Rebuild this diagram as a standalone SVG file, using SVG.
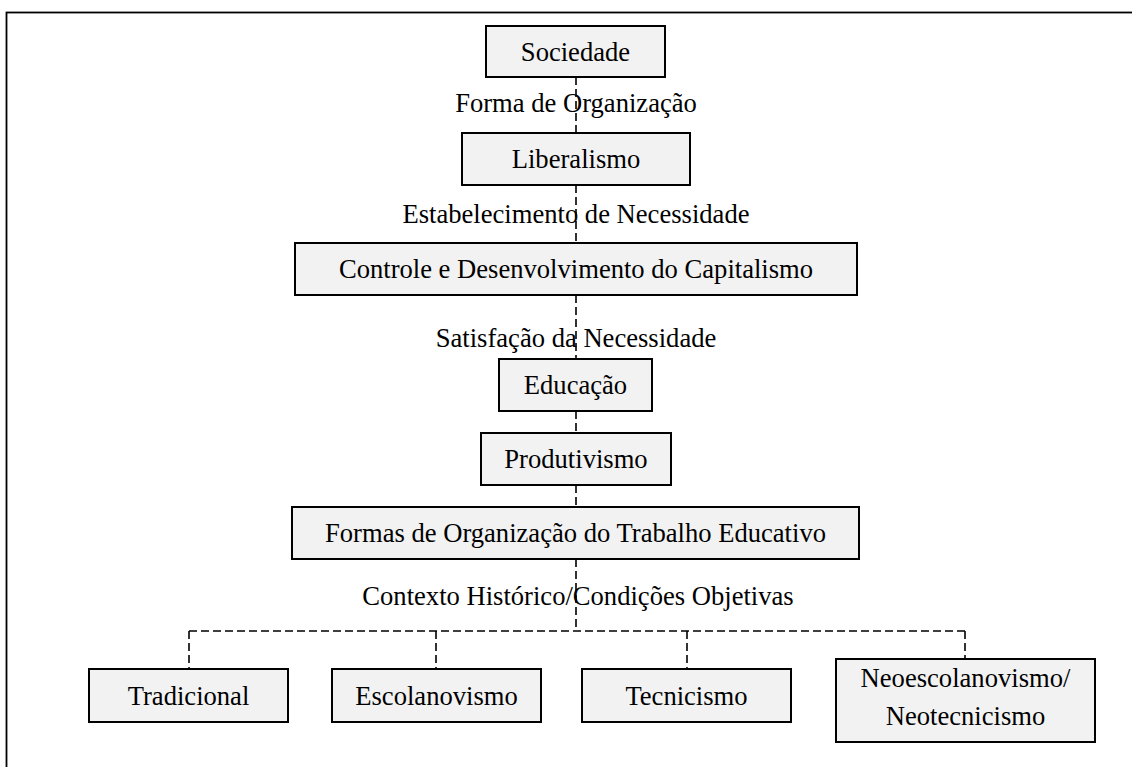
<svg xmlns="http://www.w3.org/2000/svg" width="1132" height="767" viewBox="0 0 1132 767">
<style>
.box{fill:#f2f2f2;stroke:#000;stroke-width:2}
.t{font-family:"Liberation Serif","Times New Roman",serif;font-size:26.6px;fill:#000;text-anchor:middle}
.c{fill:none;stroke:#000;stroke-width:1.6;stroke-dasharray:8 4}
</style>
<rect x="0" y="0" width="1132" height="767" fill="#fff"/>
<rect x="6.5" y="12.5" width="1200" height="800" fill="none" stroke="#000" stroke-width="1.8"/>
<g id="connectors">
<path class="c" d="M576 77V133M576 185V243M576 295V359M576 411V433M576 485V507M576 559V631"/>
<path class="c" d="M189 631H965M189 631V669M436 631V669M687 631V669M965 631V659"/>
</g>
<g id="labels">
<text class="t" x="576" y="112">Forma de Organização</text>
<text class="t" x="576" y="223">Estabelecimento de Necessidade</text>
<text class="t" x="576" y="347">Satisfação da Necessidade</text>
<text class="t" x="578" y="605">Contexto Histórico/Condições Objetivas</text>
</g>
<g id="sociedade"><rect class="box" x="486" y="26" width="179" height="51"/><text class="t" x="575.5" y="60.5">Sociedade</text></g>
<g id="liberalismo"><rect class="box" x="462" y="133" width="228" height="52"/><text class="t" x="576" y="167.5">Liberalismo</text></g>
<g id="controle"><rect class="box" x="295" y="243" width="562" height="52"/><text class="t" x="576" y="278">Controle e Desenvolvimento do Capitalismo</text></g>
<g id="educacao"><rect class="box" x="499" y="359" width="153" height="52"/><text class="t" x="575.5" y="394">Educação</text></g>
<g id="produtivismo"><rect class="box" x="481" y="433" width="190" height="52"/><text class="t" x="576" y="468">Produtivismo</text></g>
<g id="formas"><rect class="box" x="292" y="507" width="567" height="52"/><text class="t" x="575.5" y="542">Formas de Organização do Trabalho Educativo</text></g>
<g id="tradicional"><rect class="box" x="89" y="669" width="199" height="53"/><text class="t" x="188.5" y="704.5">Tradicional</text></g>
<g id="escolanovismo"><rect class="box" x="332" y="669" width="209" height="53"/><text class="t" x="436.5" y="704.5">Escolanovismo</text></g>
<g id="tecnicismo"><rect class="box" x="582" y="669" width="209" height="53"/><text class="t" x="686.5" y="704.5">Tecnicismo</text></g>
<g id="neo"><rect class="box" x="836" y="659" width="259" height="83"/><text class="t" x="965.5" y="687">Neoescolanovismo/</text><text class="t" x="965.5" y="725">Neotecnicismo</text></g>
</svg>
